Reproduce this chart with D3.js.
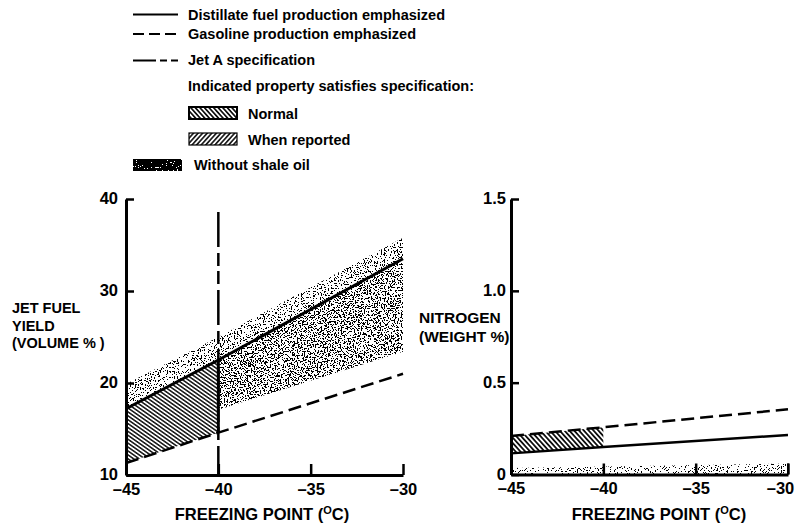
<!DOCTYPE html>
<html>
<head>
<meta charset="utf-8">
<script src="https://cdn.jsdelivr.net/npm/d3@7"></script>
<style>
	body { margin: 0; background: #fff; }
	svg { display: block; font-family: "Liberation Sans", Arial, sans-serif; font-weight: bold; }
</style>
</head>
<body>
<div id="chart"></div>
<script>
// shared axes
const freezeTicks = [-45, -40, -35, -30];
const freezeTickLabels = ['\u201345', '\u201340', '\u201335', '\u201330'];
const yieldTicks = [10, 20, 30, 40];
const nitrogenTicks = [0, 0.5, 1.0, 1.5];
const nitrogenTickLabels = ['0', '0.5', '1.0', '1.5'];

// jet fuel yield panel (volume %)
const yieldFreeze = [-45, -40, -30];
const yieldDistillate = [17.2, 22.5, 33.5];
const yieldGasoline = [11.3, 14.6, 21.0];
const yieldNoShaleTop = [19.9, 25.0, 35.8];
const yieldNoShaleLowFreeze = [-40, -30];
const yieldNoShaleLow = [17.1, 23.4];
const jetASpecFreeze = -40;
const jetASpecTop = 38.6;

// nitrogen panel (weight %)
const nitroFreeze = [-45, -40, -30];
const nitroDistillate = [0.115, 0.15, 0.215];
const nitroGasoline = [0.21, 0.257, 0.355];
const nitroNoShaleFreeze = [-45, -30];
const nitroNoShaleTop = [0.035, 0.06];

// legend texts
const lineLegend = ['Distillate fuel production emphasized', 'Gasoline production emphasized', 'Jet A specification'];
const specHeading = 'Indicated property satisfies specification:';
const specLegend = ['Normal', 'When reported'];
const shaleLegend = 'Without shale oil';

(function () {
	const width = 797, height = 530;

	const svg = d3.select('#chart').append('svg')
		.attr('width', width)
		.attr('height', height);

	svg.append('rect').attr('width', width).attr('height', height).attr('fill', '#fff');

	const defs = svg.append('defs');

	//hatch pattern: lines rotated by angle
	function hatch(id, angle, gap, lw) {
		const p = defs.append('pattern')
			.attr('id', id)
			.attr('patternUnits', 'userSpaceOnUse')
			.attr('width', gap).attr('height', 10)
			.attr('patternTransform', `rotate(${angle})`);
		p.append('rect').attr('width', gap).attr('height', 10).attr('fill', '#fff');
		p.append('line')
			.attr('x1', gap / 2).attr('x2', gap / 2).attr('y1', 0).attr('y2', 10)
			.attr('stroke', '#000').attr('stroke-width', lw);
	}
	hatch('hatchLeft', -55, 3.2, 1.4);
	hatch('hatchRight', -42, 3.6, 1.7);
	hatch('hatchNormal', -42, 3.4, 1.6);
	hatch('hatchReported', 42, 3.4, 1.5);

	//stipple texture from noise, clipped to the shape it is applied to
	function stipple(id, threshold, freq, seed) {
		const f = defs.append('filter')
			.attr('id', id)
			.attr('x', 0).attr('y', 0).attr('width', 1).attr('height', 1)
			.attr('color-interpolation-filters', 'sRGB');
		f.append('feTurbulence')
			.attr('type', 'fractalNoise')
			.attr('baseFrequency', freq)
			.attr('numOctaves', 2)
			.attr('seed', seed)
			.attr('result', 'noise');
		f.append('feColorMatrix')
			.attr('in', 'noise')
			.attr('type', 'matrix')
			.attr('values', '0 0 0 0 0  0 0 0 0 0  0 0 0 0 0  1 0 0 0 0')
			.attr('result', 'mono');
		const steps = d3.range(40).map(i => (i / 40 >= threshold ? 1 : 0)).join(' ');
		f.append('feComponentTransfer')
			.attr('in', 'mono')
			.attr('result', 'dots')
			.append('feFuncA').attr('type', 'discrete').attr('tableValues', steps);
		f.append('feComposite')
			.attr('in', 'dots').attr('in2', 'SourceGraphic').attr('operator', 'in');
	}
	stipple('stipLight', 0.58, 0.7, 3);
	stipple('stipDense', 0.54, 0.7, 5);
	stipple('stipFaint', 0.62, 0.7, 9);
	stipple('stipDark', 0.3, 0.8, 11);

	const rows = (xs, los, his) => xs.map((f, i) => ({ f, lo: los[i], hi: his[i] }));

	//Function sets up one panel's scales and generators
	function panel(opts) {
		const x = d3.scaleLinear().domain([-45, -30]).range(opts.xRange);
		const y = d3.scaleLinear().domain(opts.yDomain).range(opts.yRange);
		const g = svg.append('g');

		const area = d3.area()
			.x(d => x(d.f))
			.y0(d => y(d.lo))
			.y1(d => y(d.hi));
		const line = d3.line()
			.x(d => x(d[0]))
			.y(d => y(d[1]));

		return { x, y, g, area, line };
	}

	function axes(p, yTicks, yLabels, yPad, lastShift) {
		const yAxis = p.g.append('g')
			.attr('transform', `translate(${p.x.range()[0]},0)`)
			.call(d3.axisLeft(p.y)
				.tickValues(yTicks)
				.tickFormat((d, i) => yLabels[i])
				.tickSize(-8)
				.tickSizeOuter(0)
				.tickPadding(yPad));

		const xAxis = p.g.append('g')
			.attr('transform', `translate(0,${p.y.range()[0]})`)
			.call(d3.axisBottom(p.x)
				.tickValues(freezeTicks)
				.tickFormat((d, i) => freezeTickLabels[i])
				.tickSize(-11)
				.tickSizeOuter(0)
				.tickPadding(8));

		[xAxis, yAxis].forEach(a => {
			a.select('.domain').attr('stroke', '#000').attr('stroke-width', 3);
			a.selectAll('.tick line').attr('stroke', '#000').attr('stroke-width', 2.5);
			a.selectAll('.tick text')
				.attr('fill', '#000')
				.style('font-size', '16.5px')
				.style('font-family', '"Liberation Sans", Arial, sans-serif')
				.style('font-weight', 'bold');
		});
		yAxis.selectAll('.tick text').attr('dy', '0.3em');
		//keep the last label inside the window
		xAxis.selectAll('.tick text').filter((d, i) => i === freezeTicks.length - 1)
			.attr('dx', -lastShift);
	}

	function freezeTitle(cx) {
		const t = svg.append('text')
			.attr('x', cx).attr('y', 520)
			.attr('text-anchor', 'middle')
			.style('font-size', '16.5px');
		t.append('tspan').text('FREEZING POINT (');
		t.append('tspan').attr('dy', -6).style('font-size', '11px').text('O');
		t.append('tspan').attr('dy', 6).text('C)');
	}

	//LEFT PANEL: jet fuel yield
	const L = panel({ xRange: [126, 403], yDomain: [10, 40], yRange: [475, 199] });

	const upperBand = rows(yieldFreeze, yieldDistillate, yieldNoShaleTop);
	L.g.append('path').attr('d', L.area(upperBand)).attr('fill', '#000').attr('filter', 'url(#stipLight)');

	const distLow = yieldNoShaleLowFreeze.map(f => yieldDistillate[yieldFreeze.indexOf(f)]);
	const lowerBand = rows(yieldNoShaleLowFreeze, yieldNoShaleLow, distLow);
	L.g.append('path').attr('d', L.area(lowerBand)).attr('fill', '#000').attr('filter', 'url(#stipDense)');

	const specIdx = yieldFreeze.filter(f => f <= jetASpecFreeze).length;
	const normalBand = rows(yieldFreeze.slice(0, specIdx), yieldGasoline.slice(0, specIdx), yieldDistillate.slice(0, specIdx));
	L.g.append('path').attr('d', L.area(normalBand)).attr('fill', 'url(#hatchLeft)');

	L.g.append('path')
		.attr('d', L.line(yieldFreeze.map((f, i) => [f, yieldDistillate[i]])))
		.attr('fill', 'none').attr('stroke', '#000').attr('stroke-width', 3);
	L.g.append('path')
		.attr('d', L.line(yieldFreeze.map((f, i) => [f, yieldGasoline[i]])))
		.attr('fill', 'none').attr('stroke', '#000').attr('stroke-width', 2.5)
		.attr('stroke-dasharray', '13,6');
	//solid edge of the hatched area
	L.g.append('path')
		.attr('d', L.line([[jetASpecFreeze, yieldGasoline[specIdx - 1]], [jetASpecFreeze, yieldDistillate[specIdx - 1]]]))
		.attr('stroke', '#000').attr('stroke-width', 3);
	//Jet A specification
	L.g.append('path')
		.attr('d', L.line([[jetASpecFreeze, jetASpecTop], [jetASpecFreeze, 10]]))
		.attr('stroke', '#000').attr('stroke-width', 2.5)
		.attr('stroke-dasharray', '35,6,13,5,13,6');

	axes(L, yieldTicks, yieldTicks.map(String), 8, 0);
	freezeTitle(262);

	const yl = svg.append('text').style('font-size', '14.5px');
	['JET FUEL', 'YIELD', '(VOLUME % )'].forEach((s, i) => {
		yl.append('tspan').attr('x', 12).attr('y', 313 + i * 17.5).text(s);
	});

	//RIGHT PANEL: nitrogen
	const R = panel({ xRange: [511, 788], yDomain: [0, 1.5], yRange: [474.5, 199] });

	const shaleBand = rows(nitroNoShaleFreeze, nitroNoShaleFreeze.map(() => 0), nitroNoShaleTop);
	R.g.append('path').attr('d', R.area(shaleBand)).attr('fill', '#000').attr('filter', 'url(#stipFaint)');
	R.g.append('path')
		.attr('d', R.line([[-30, 0], [-30, nitroNoShaleTop[nitroNoShaleTop.length - 1]]]))
		.attr('stroke', '#000').attr('stroke-width', 2);

	const rIdx = nitroFreeze.filter(f => f <= jetASpecFreeze).length;
	const nitroBand = rows(nitroFreeze.slice(0, rIdx), nitroDistillate.slice(0, rIdx), nitroGasoline.slice(0, rIdx));
	R.g.append('path').attr('d', R.area(nitroBand)).attr('fill', 'url(#hatchRight)');

	R.g.append('path')
		.attr('d', R.line(nitroFreeze.map((f, i) => [f, nitroDistillate[i]])))
		.attr('fill', 'none').attr('stroke', '#000').attr('stroke-width', 2.5);
	R.g.append('path')
		.attr('d', R.line(nitroFreeze.map((f, i) => [f, nitroGasoline[i]])))
		.attr('fill', 'none').attr('stroke', '#000').attr('stroke-width', 2.5)
		.attr('stroke-dasharray', '13,6');

	axes(R, nitrogenTicks, nitrogenTickLabels, 5, 8);
	freezeTitle(659);

	const nl = svg.append('text').style('font-size', '15.5px');
	['NITROGEN', '(WEIGHT %)'].forEach((s, i) => {
		nl.append('tspan').attr('x', 419).attr('y', 323 + i * 18.5).text(s);
	});

	//LEGEND
	const legend = svg.append('g').style('font-size', '14.5px');
	const dashes = [null, '11,5', '23,4,7,4,7,4'];
	const lineY = [14.5, 34, 60.5];
	const textY = [19.5, 38.5, 65];
	lineLegend.forEach((s, i) => {
		legend.append('line')
			.attr('x1', 133).attr('x2', 178).attr('y1', lineY[i]).attr('y2', lineY[i])
			.attr('stroke', '#000').attr('stroke-width', 2.2)
			.attr('stroke-dasharray', dashes[i]);
		legend.append('text').attr('x', 188).attr('y', textY[i]).text(s);
	});
	legend.append('text').attr('x', 188).attr('y', 90.5).text(specHeading);

	const swatchFill = ['url(#hatchNormal)', 'url(#hatchReported)'];
	const swatchY = [107, 133];
	specLegend.forEach((s, i) => {
		legend.append('rect')
			.attr('x', 189).attr('y', swatchY[i]).attr('width', 48).attr('height', 12)
			.attr('fill', swatchFill[i]).attr('stroke', '#000').attr('stroke-width', i === 0 ? 2 : 1.2);
		legend.append('text').attr('x', 248).attr('y', swatchY[i] + 11.5).text(s);
	});

	legend.append('rect')
		.attr('x', 133).attr('y', 159).attr('width', 49).attr('height', 12)
		.attr('fill', '#000').attr('filter', 'url(#stipDark)');
	legend.append('text').attr('x', 194).attr('y', 170).text(shaleLegend);
})();
</script>
</body>
</html>
